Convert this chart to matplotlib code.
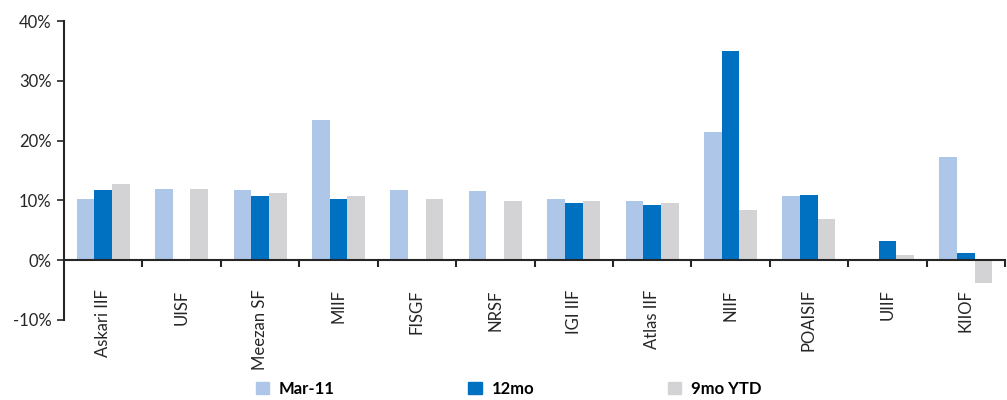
import matplotlib
matplotlib.use("Agg")
import matplotlib.pyplot as plt
import numpy as np
from matplotlib.patches import Patch
from matplotlib.ticker import FuncFormatter, FixedLocator

categories = ["Askari IIF", "UISF", "Meezan SF", "MIIF", "FISGF", "NRSF",
              "IGI IIF", "Atlas IIF", "NIIF", "POAISIF", "UIIF", "KIIOF"]
mar11 = [10.3, 11.9, 11.8, 23.5, 11.8, 11.5, 10.3, 9.9, 21.5, 10.8, np.nan, 17.3]
mo12 = [11.8, np.nan, 10.8, 10.3, np.nan, np.nan, 9.5, 9.3, 35.0, 10.9, 3.2, 1.2]
ytd9 = [12.8, 11.9, 11.3, 10.8, 10.3, 9.9, 9.9, 9.5, 8.4, 6.9, 0.9, -3.8]
series_names = ["Mar-11", "12mo", "9mo YTD"]
colors = ["#AEC6E8", "#0070C0", "#D3D3D5"]

plt.rcParams['font.family'] = ['Lato', 'DejaVu Sans']

fig = plt.figure(figsize=(10.07, 4.0), dpi=100)
ax = fig.add_axes([0.0636, 0.2, 0.9344, 0.7475])

x = np.arange(len(categories))
w = 0.225
offsets = [-w, 0, w]
for vals, off, c, name in zip([mar11, mo12, ytd9], offsets, colors, series_names):
    ax.bar(x + off, vals, width=w, color=c, label=name, zorder=2)

ax.set_xlim(-0.5, len(categories) - 0.5)
ax.set_ylim(-10, 40)
ax.set_yticks([-10, 0, 10, 20, 30, 40])
ax.yaxis.set_major_formatter(FuncFormatter(lambda v, p: f"{int(round(v))}%"))
ax.tick_params(axis='y', labelsize=12, length=5, width=1.2, colors='#262626', pad=4)

ax.spines['top'].set_visible(False)
ax.spines['right'].set_visible(False)
ax.spines['bottom'].set_position(('data', 0))
ax.spines['bottom'].set_zorder(3)
for s in ['left', 'bottom']:
    ax.spines[s].set_linewidth(1.5)
    ax.spines[s].set_color('#262626')

# boundary ticks
ax.xaxis.set_major_locator(FixedLocator(np.arange(len(categories)) + 0.5))
ax.xaxis.set_major_formatter(FuncFormatter(lambda v, p: ""))
ax.xaxis.set_minor_locator(FixedLocator(x))
ax.set_xticks(x, categories, minor=True, rotation=90, fontsize=12, color='#262626')
ax.tick_params(axis='x', which='major', length=5, width=1.5, direction='out', colors='#262626')
ax.tick_params(axis='x', which='minor', length=0, pad=21)
for lab in ax.get_xticklabels(minor=True):
    lab.set_verticalalignment('top')

handles = [Patch(color=c) for c in colors]
fig.legend(handles, series_names, loc='center', bbox_to_anchor=(0.505, 0.028), ncol=3,
           frameon=False, prop={'weight': 'bold', 'size': 12},
           handlelength=0.8, handleheight=0.8, handletextpad=0.6, columnspacing=8.0)

fig.savefig("out.png", dpi=100)
